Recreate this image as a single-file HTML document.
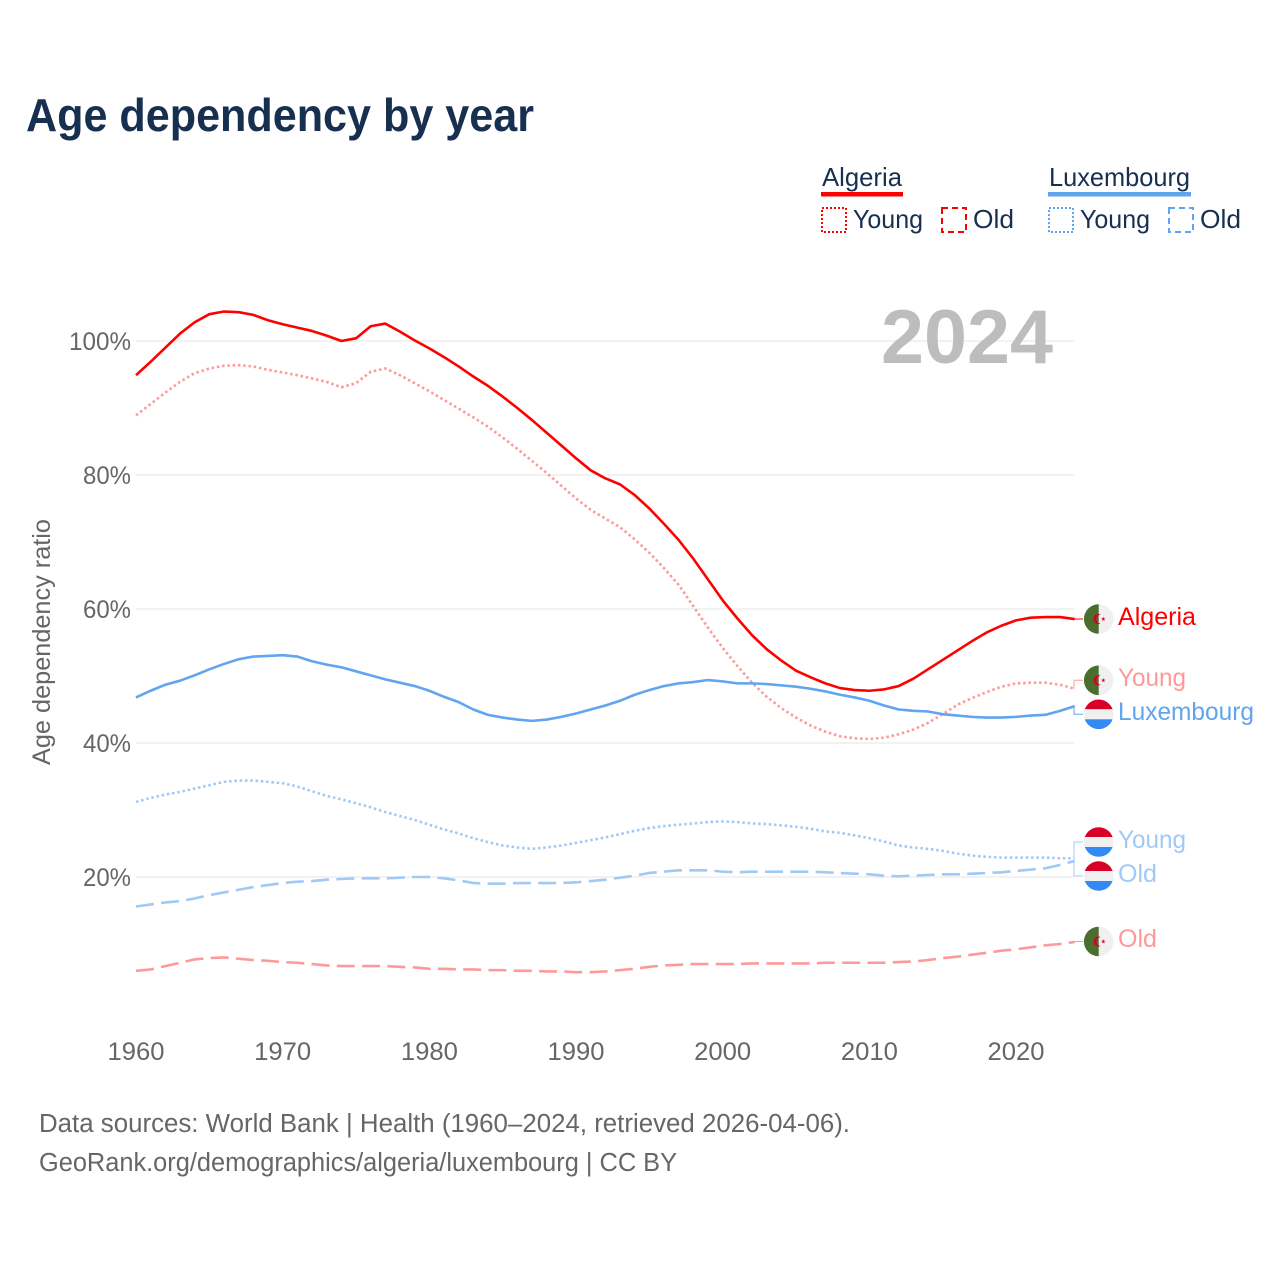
<!DOCTYPE html>
<html lang="en">
<head>
<meta charset="utf-8">
<title>Age dependency by year</title>
<style>
html,body{margin:0;padding:0;background:#fff;}
svg{display:block;font-family:"Liberation Sans",sans-serif;}
</style>
</head>
<body>
<svg id="chart" xmlns="http://www.w3.org/2000/svg" width="1280" height="1280" viewBox="0 0 1280 1280">
  <defs>
    <clipPath id="flag-clip"><circle cx="0" cy="0" r="14.8"/></clipPath>
    <g id="flag-dz" clip-path="url(#flag-clip)">
      <rect x="-15" y="-15" width="30" height="30" fill="#f0f0f0"/>
      <rect x="-15" y="-15" width="15" height="30" fill="#496e2d"/>
      <path d="M2,-4.4 A5,5 0 1 0 2,4.4 A3.8,3.8 0 1 1 2,-4.4 Z" fill="#d80027"/>
      <polygon points="4.6,-2.4 5.1,-0.7 6.9,-0.7 5.4,0.3 6,2 4.6,1 3.2,2 3.8,0.3 2.3,-0.7 4.1,-0.7" fill="#d80027"/>
    </g>
    <g id="flag-lu" clip-path="url(#flag-clip)">
      <rect x="-15" y="-15" width="30" height="10" fill="#d80027"/>
      <rect x="-15" y="-5" width="30" height="10" fill="#f0f0f0"/>
      <rect x="-15" y="5" width="30" height="10" fill="#338af3"/>
    </g>
  </defs>

  <text x="26" y="131" font-size="46" font-weight="700" fill="#17304f" textLength="508" lengthAdjust="spacingAndGlyphs">Age dependency by year</text>

  <g id="grid"></g>
  <g id="y-ticks"></g>
  <g id="x-ticks"></g>

  <text transform="translate(50,642) rotate(-90)" text-anchor="middle" font-size="25" fill="#666666" textLength="246" lengthAdjust="spacingAndGlyphs">Age dependency ratio</text>

  <text x="881" y="363" font-size="76" font-weight="700" fill="#bdbdbd" textLength="172" lengthAdjust="spacingAndGlyphs">2024</text>

  <g id="series"></g>
  <g id="connectors"></g>

  <g transform="translate(1098.7,619)"><use href="#flag-dz"/></g>
  <g transform="translate(1098.7,680.3)"><use href="#flag-dz"/></g>
  <g transform="translate(1098.7,714.3)"><use href="#flag-lu"/></g>
  <g transform="translate(1098.7,842)"><use href="#flag-lu"/></g>
  <g transform="translate(1098.7,876)"><use href="#flag-lu"/></g>
  <g transform="translate(1098.7,941.5)"><use href="#flag-dz"/></g>

  <text x="1118" y="625" font-size="25" fill="#ff0000" textLength="78" lengthAdjust="spacingAndGlyphs">Algeria</text>
  <text x="1118" y="686" font-size="25" fill="#ff9999" textLength="68" lengthAdjust="spacingAndGlyphs">Young</text>
  <text x="1118" y="720" font-size="25" fill="#60a5ef" textLength="136" lengthAdjust="spacingAndGlyphs">Luxembourg</text>
  <text x="1118" y="848" font-size="25" fill="#a0c9f5" textLength="68" lengthAdjust="spacingAndGlyphs">Young</text>
  <text x="1118" y="882" font-size="25" fill="#a0c9f5" textLength="39" lengthAdjust="spacingAndGlyphs">Old</text>
  <text x="1118" y="947" font-size="25" fill="#ff9999" textLength="39" lengthAdjust="spacingAndGlyphs">Old</text>

  <g>
    <text x="822" y="186" font-size="26" fill="#17304f" textLength="80" lengthAdjust="spacingAndGlyphs">Algeria</text>
    <rect x="821" y="192" width="82" height="4.5" fill="#ff0000"/>
    <rect x="822" y="208" width="24" height="24" fill="none" stroke="#ff0000" stroke-width="2" stroke-dasharray="2 2"/>
    <text x="853" y="228" font-size="26" fill="#17304f" textLength="70" lengthAdjust="spacingAndGlyphs">Young</text>
    <rect x="942" y="208" width="24" height="24" fill="none" stroke="#ff0000" stroke-width="2" stroke-dasharray="6 4"/>
    <text x="973" y="228" font-size="26" fill="#17304f" textLength="41" lengthAdjust="spacingAndGlyphs">Old</text>

    <text x="1049" y="186" font-size="26" fill="#17304f" textLength="141" lengthAdjust="spacingAndGlyphs">Luxembourg</text>
    <rect x="1048" y="192" width="143" height="4.5" fill="#60a5ef"/>
    <rect x="1049" y="208" width="24" height="24" fill="none" stroke="#60a5ef" stroke-width="2" stroke-dasharray="2 2"/>
    <text x="1080" y="228" font-size="26" fill="#17304f" textLength="70" lengthAdjust="spacingAndGlyphs">Young</text>
    <rect x="1169" y="208" width="24" height="24" fill="none" stroke="#60a5ef" stroke-width="2" stroke-dasharray="6 4"/>
    <text x="1200" y="228" font-size="26" fill="#17304f" textLength="41" lengthAdjust="spacingAndGlyphs">Old</text>
  </g>

  <text x="39" y="1132" font-size="25.5" fill="#666666" textLength="811" lengthAdjust="spacingAndGlyphs">Data sources: World Bank | Health (1960–2024, retrieved 2026-04-06).</text>
  <text x="39" y="1171" font-size="25.5" fill="#666666" textLength="638" lengthAdjust="spacingAndGlyphs">GeoRank.org/demographics/algeria/luxembourg | CC BY</text>
</svg>

<script>
const startYear = 1960;
const xTickYears = [1960, 1970, 1980, 1990, 2000, 2010, 2020];
const xTickLabels = ['1960', '1970', '1980', '1990', '2000', '2010', '2020'];
const yTickValues = [20, 40, 60, 80, 100];
const yTickLabels = ['20%', '40%', '60%', '80%', '100%'];

const algeriaTotal = [94.9,96.9,99,101.1,102.8,104,104.4,104.3,103.9,103.1,102.5,102,101.5,100.8,100,100.4,102.2,102.6,101.4,100.1,98.9,97.6,96.2,94.7,93.3,91.7,90,88.2,86.3,84.4,82.5,80.7,79.5,78.6,77,75,72.7,70.3,67.5,64.4,61.3,58.6,56.1,54,52.3,50.8,49.8,48.9,48.2,47.9,47.8,48,48.5,49.6,51,52.4,53.8,55.2,56.5,57.5,58.3,58.7,58.8,58.8,58.5];
const algeriaYoung = [88.9,90.6,92.3,93.9,95.2,95.9,96.3,96.4,96.2,95.7,95.3,94.9,94.4,93.9,93.1,93.7,95.4,95.9,94.9,93.7,92.5,91.2,89.9,88.6,87.2,85.6,83.9,82.1,80.3,78.4,76.5,74.8,73.5,72.2,70.4,68.4,66.1,63.6,60.4,57.2,54.2,51.5,49,46.9,45.2,43.8,42.6,41.7,41,40.7,40.6,40.8,41.3,42,43,44.3,45.7,46.7,47.6,48.4,48.9,49,49,48.7,48.1];
const algeriaOld = [6,6.2,6.7,7.2,7.7,7.9,8,7.8,7.6,7.5,7.3,7.2,7,6.8,6.7,6.7,6.7,6.7,6.6,6.5,6.3,6.3,6.2,6.2,6.1,6.1,6,6,5.9,5.9,5.8,5.8,5.9,6.1,6.3,6.6,6.8,6.9,7,7,7,7,7.1,7.1,7.1,7.1,7.1,7.2,7.2,7.2,7.2,7.2,7.3,7.4,7.6,7.9,8.1,8.4,8.7,9,9.2,9.5,9.8,10,10.3];
const luxembourgTotal = [46.8,47.8,48.7,49.3,50.1,51,51.8,52.5,52.9,53,53.1,52.9,52.2,51.7,51.3,50.7,50.1,49.5,49,48.5,47.8,46.9,46.1,45,44.2,43.8,43.5,43.3,43.5,43.9,44.4,45,45.6,46.3,47.2,47.9,48.5,48.9,49.1,49.4,49.2,48.9,48.9,48.8,48.6,48.4,48.1,47.7,47.2,46.8,46.3,45.6,45,44.8,44.7,44.3,44.1,43.9,43.8,43.8,43.9,44.1,44.2,44.8,45.5];
const luxembourgYoung = [31.2,31.8,32.3,32.7,33.2,33.7,34.2,34.4,34.4,34.2,34,33.5,32.8,32.1,31.6,31,30.4,29.7,29.1,28.5,27.8,27.1,26.5,25.8,25.2,24.7,24.4,24.2,24.4,24.7,25.1,25.5,25.9,26.4,26.9,27.3,27.6,27.8,28,28.2,28.3,28.2,28,27.9,27.7,27.5,27.2,26.8,26.6,26.2,25.8,25.3,24.7,24.4,24.2,23.9,23.5,23.2,23,22.9,22.9,22.9,22.9,22.8,22.8];
const luxembourgOld = [15.6,15.9,16.2,16.4,16.8,17.3,17.7,18.1,18.5,18.8,19.1,19.3,19.4,19.6,19.7,19.8,19.8,19.8,19.9,20,20,19.8,19.5,19.1,19,19,19.1,19.1,19.1,19.1,19.2,19.4,19.6,19.9,20.2,20.6,20.8,21,21,21,20.8,20.7,20.8,20.8,20.8,20.8,20.8,20.7,20.6,20.5,20.4,20.2,20.1,20.2,20.3,20.4,20.4,20.5,20.6,20.7,20.9,21.1,21.3,21.8,22.4];

const NS = 'http://www.w3.org/2000/svg';
const xOf = function (year) { return 136 + (year - 1960) * (880 / 60); };
const yOf = function (v) { return 1011 - v * 6.7; };
const plotRight = 1074;
const connectorEnd = 1083;

const gridLayer = document.getElementById('grid');
const yTickLayer = document.getElementById('y-ticks');
const xTickLayer = document.getElementById('x-ticks');
const seriesLayer = document.getElementById('series');
const connectorLayer = document.getElementById('connectors');

yTickValues.forEach(function (v, i) {
  const line = document.createElementNS(NS, 'line');
  
  
  line.setAttribute('x1', 136);
  line.setAttribute('x2', plotRight);
  line.setAttribute('y1', yOf(v));
  line.setAttribute('y2', yOf(v));
  line.setAttribute('stroke', '#ebebeb');
  line.setAttribute('stroke-width', 1.2);
  gridLayer.appendChild(line);

  const label = document.createElementNS(NS, 'text');
  
  
  const w = yTickLabels[i].length === 4 ? 62 : 48;
  label.setAttribute('x', 131 - w);
  label.setAttribute('y', yOf(v) + 9);
  label.setAttribute('font-size', 25);
  label.setAttribute('fill', '#666666');
  label.setAttribute('textLength', w);
  label.setAttribute('lengthAdjust', 'spacingAndGlyphs');
  label.textContent = yTickLabels[i];
  yTickLayer.appendChild(label);
});

xTickYears.forEach(function (yr, i) {
  const label = document.createElementNS(NS, 'text');
  
  
  label.setAttribute('x', xOf(yr) - 28.5);
  label.setAttribute('y', 1060);
  label.setAttribute('font-size', 25);
  label.setAttribute('fill', '#666666');
  label.setAttribute('textLength', 57);
  label.setAttribute('lengthAdjust', 'spacingAndGlyphs');
  label.textContent = xTickLabels[i];
  xTickLayer.appendChild(label);
});

function drawLine(values, color, dash, name) {
  let d = '';
  values.forEach(function (v, i) {
    d += (i ? 'L' : 'M') + xOf(startYear + i).toFixed(2) + ',' + yOf(v).toFixed(2);
  });
  const path = document.createElementNS(NS, 'path');
  
  
  path.setAttribute('d', d);
  path.setAttribute('fill', 'none');
  path.setAttribute('stroke', color);
  path.setAttribute('stroke-width', 2.6);
  path.setAttribute('stroke-linejoin', 'round');
  if (dash) path.setAttribute('stroke-dasharray', dash);
  seriesLayer.appendChild(path);
}

function drawConnector(values, labelY, color, name) {
  const endY = yOf(values[values.length - 1]);
  const path = document.createElementNS(NS, 'path');
  
  
  path.setAttribute('d', 'M' + plotRight + ',' + endY.toFixed(2) + 'V' + labelY + 'H' + connectorEnd);
  path.setAttribute('fill', 'none');
  path.setAttribute('stroke', color);
  path.setAttribute('stroke-width', 1);
  connectorLayer.appendChild(path);
}

drawLine(luxembourgOld, '#a0c9f5', '18 7.3', 'line-luxembourg-old');
drawLine(luxembourgYoung, '#a0c9f5', '2.5 2.8', 'line-luxembourg-young');
drawLine(algeriaOld, '#ff9999', '18 7.3', 'line-algeria-old');
drawLine(algeriaYoung, '#ff9999', '2.5 2.8', 'line-algeria-young');
drawLine(luxembourgTotal, '#60a5ef', '', 'line-luxembourg-total');
drawLine(algeriaTotal, '#ff0000', '', 'line-algeria-total');

drawConnector(algeriaTotal, 619, '#ff0000', 'connector-algeria-total');
drawConnector(algeriaYoung, 680.3, '#ff9999', 'connector-algeria-young');
drawConnector(luxembourgTotal, 714.3, '#60a5ef', 'connector-luxembourg-total');
drawConnector(luxembourgYoung, 842, '#a0c9f5', 'connector-luxembourg-young');
drawConnector(luxembourgOld, 876, '#a0c9f5', 'connector-luxembourg-old');
drawConnector(algeriaOld, 941.5, '#ff9999', 'connector-algeria-old');
</script>
</body>
</html>
